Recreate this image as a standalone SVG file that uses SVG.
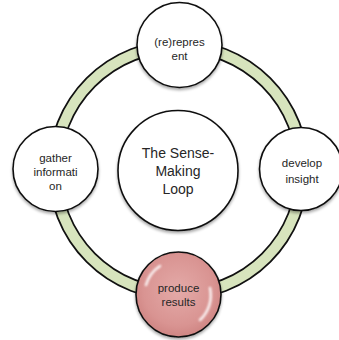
<svg xmlns="http://www.w3.org/2000/svg" width="339" height="340" viewBox="0 0 339 340">
  <defs>
    <style>
      .node { fill: #ffffff; stroke: #111111; stroke-width: 1.6; filter: url(#shadow); }
      .label { font-family: "Liberation Sans", Arial, sans-serif; font-size: 11.5px; fill: #262626; text-anchor: middle; font-variant-ligatures: none; }
      .title { font-family: "Liberation Sans", Arial, sans-serif; font-size: 14px; fill: #262626; text-anchor: middle; font-variant-ligatures: none; }
    </style>
    <filter id="shadow" x="-20%" y="-20%" width="140%" height="150%">
      <feGaussianBlur in="SourceAlpha" stdDeviation="1.5"/>
      <feOffset dx="0" dy="2" result="off"/>
      <feComponentTransfer><feFuncA type="linear" slope="0.35"/></feComponentTransfer>
      <feMerge><feMergeNode/><feMergeNode in="SourceGraphic"/></feMerge>
    </filter>
    <filter id="soft" x="-50%" y="-50%" width="200%" height="200%">
      <feGaussianBlur stdDeviation="1"/>
    </filter>
    <radialGradient id="pink" cx="50%" cy="45%" r="55%">
      <stop offset="0" stop-color="#e4aaa8"/>
      <stop offset="0.75" stop-color="#d99492"/>
      <stop offset="1" stop-color="#cf8583"/>
    </radialGradient>
  </defs>

  <!-- loop band connecting the four steps -->
  <g id="connectors">
    <circle cx="178.5" cy="170" r="124" fill="none" stroke="#111111" stroke-width="13.5"/>
    <circle cx="178.5" cy="170" r="124" fill="none" stroke="#d7e4bd" stroke-width="10"/>
  </g>

  <g id="center">
    <circle class="node" cx="178" cy="170.5" r="60"/>
    <text class="title" x="178" y="158">The Sense-</text>
    <text class="title" x="178" y="176">Making</text>
    <text class="title" x="178" y="194">Loop</text>
  </g>

  <g id="represent">
    <circle class="node" cx="179.5" cy="45" r="42.5"/>
    <text class="label" x="179.5" y="46">(re)repres</text>
    <text class="label" x="179.5" y="59.5">ent</text>
  </g>

  <g id="develop">
    <circle class="node" cx="301" cy="169" r="41.5"/>
    <text class="label" x="302" y="167">develop</text>
    <text class="label" x="302" y="182.5">insight</text>
  </g>

  <g id="gather">
    <circle class="node" cx="55.5" cy="169" r="42.5"/>
    <text class="label" x="55.5" y="162">gather</text>
    <text class="label" x="55.5" y="176">informati</text>
    <text class="label" x="55.5" y="190">on</text>
  </g>

  <g id="produce">
    <circle cx="178.5" cy="294.5" r="42.5" fill="url(#pink)" stroke="#111111" stroke-width="1.6" filter="url(#shadow)"/>
    <path d="M 146 285 A 34 34 0 0 1 160 266" fill="none" stroke="#ffffff" stroke-width="2.5" stroke-linecap="round" filter="url(#soft)" opacity="0.9"/>
    <path d="M 210 288 A 34 34 0 0 1 200 320" fill="none" stroke="#ffffff" stroke-width="2.5" stroke-linecap="round" filter="url(#soft)" opacity="0.9"/>
    <text class="label" x="178.5" y="292">produce</text>
    <text class="label" x="178.5" y="306">results</text>
  </g>
</svg>
